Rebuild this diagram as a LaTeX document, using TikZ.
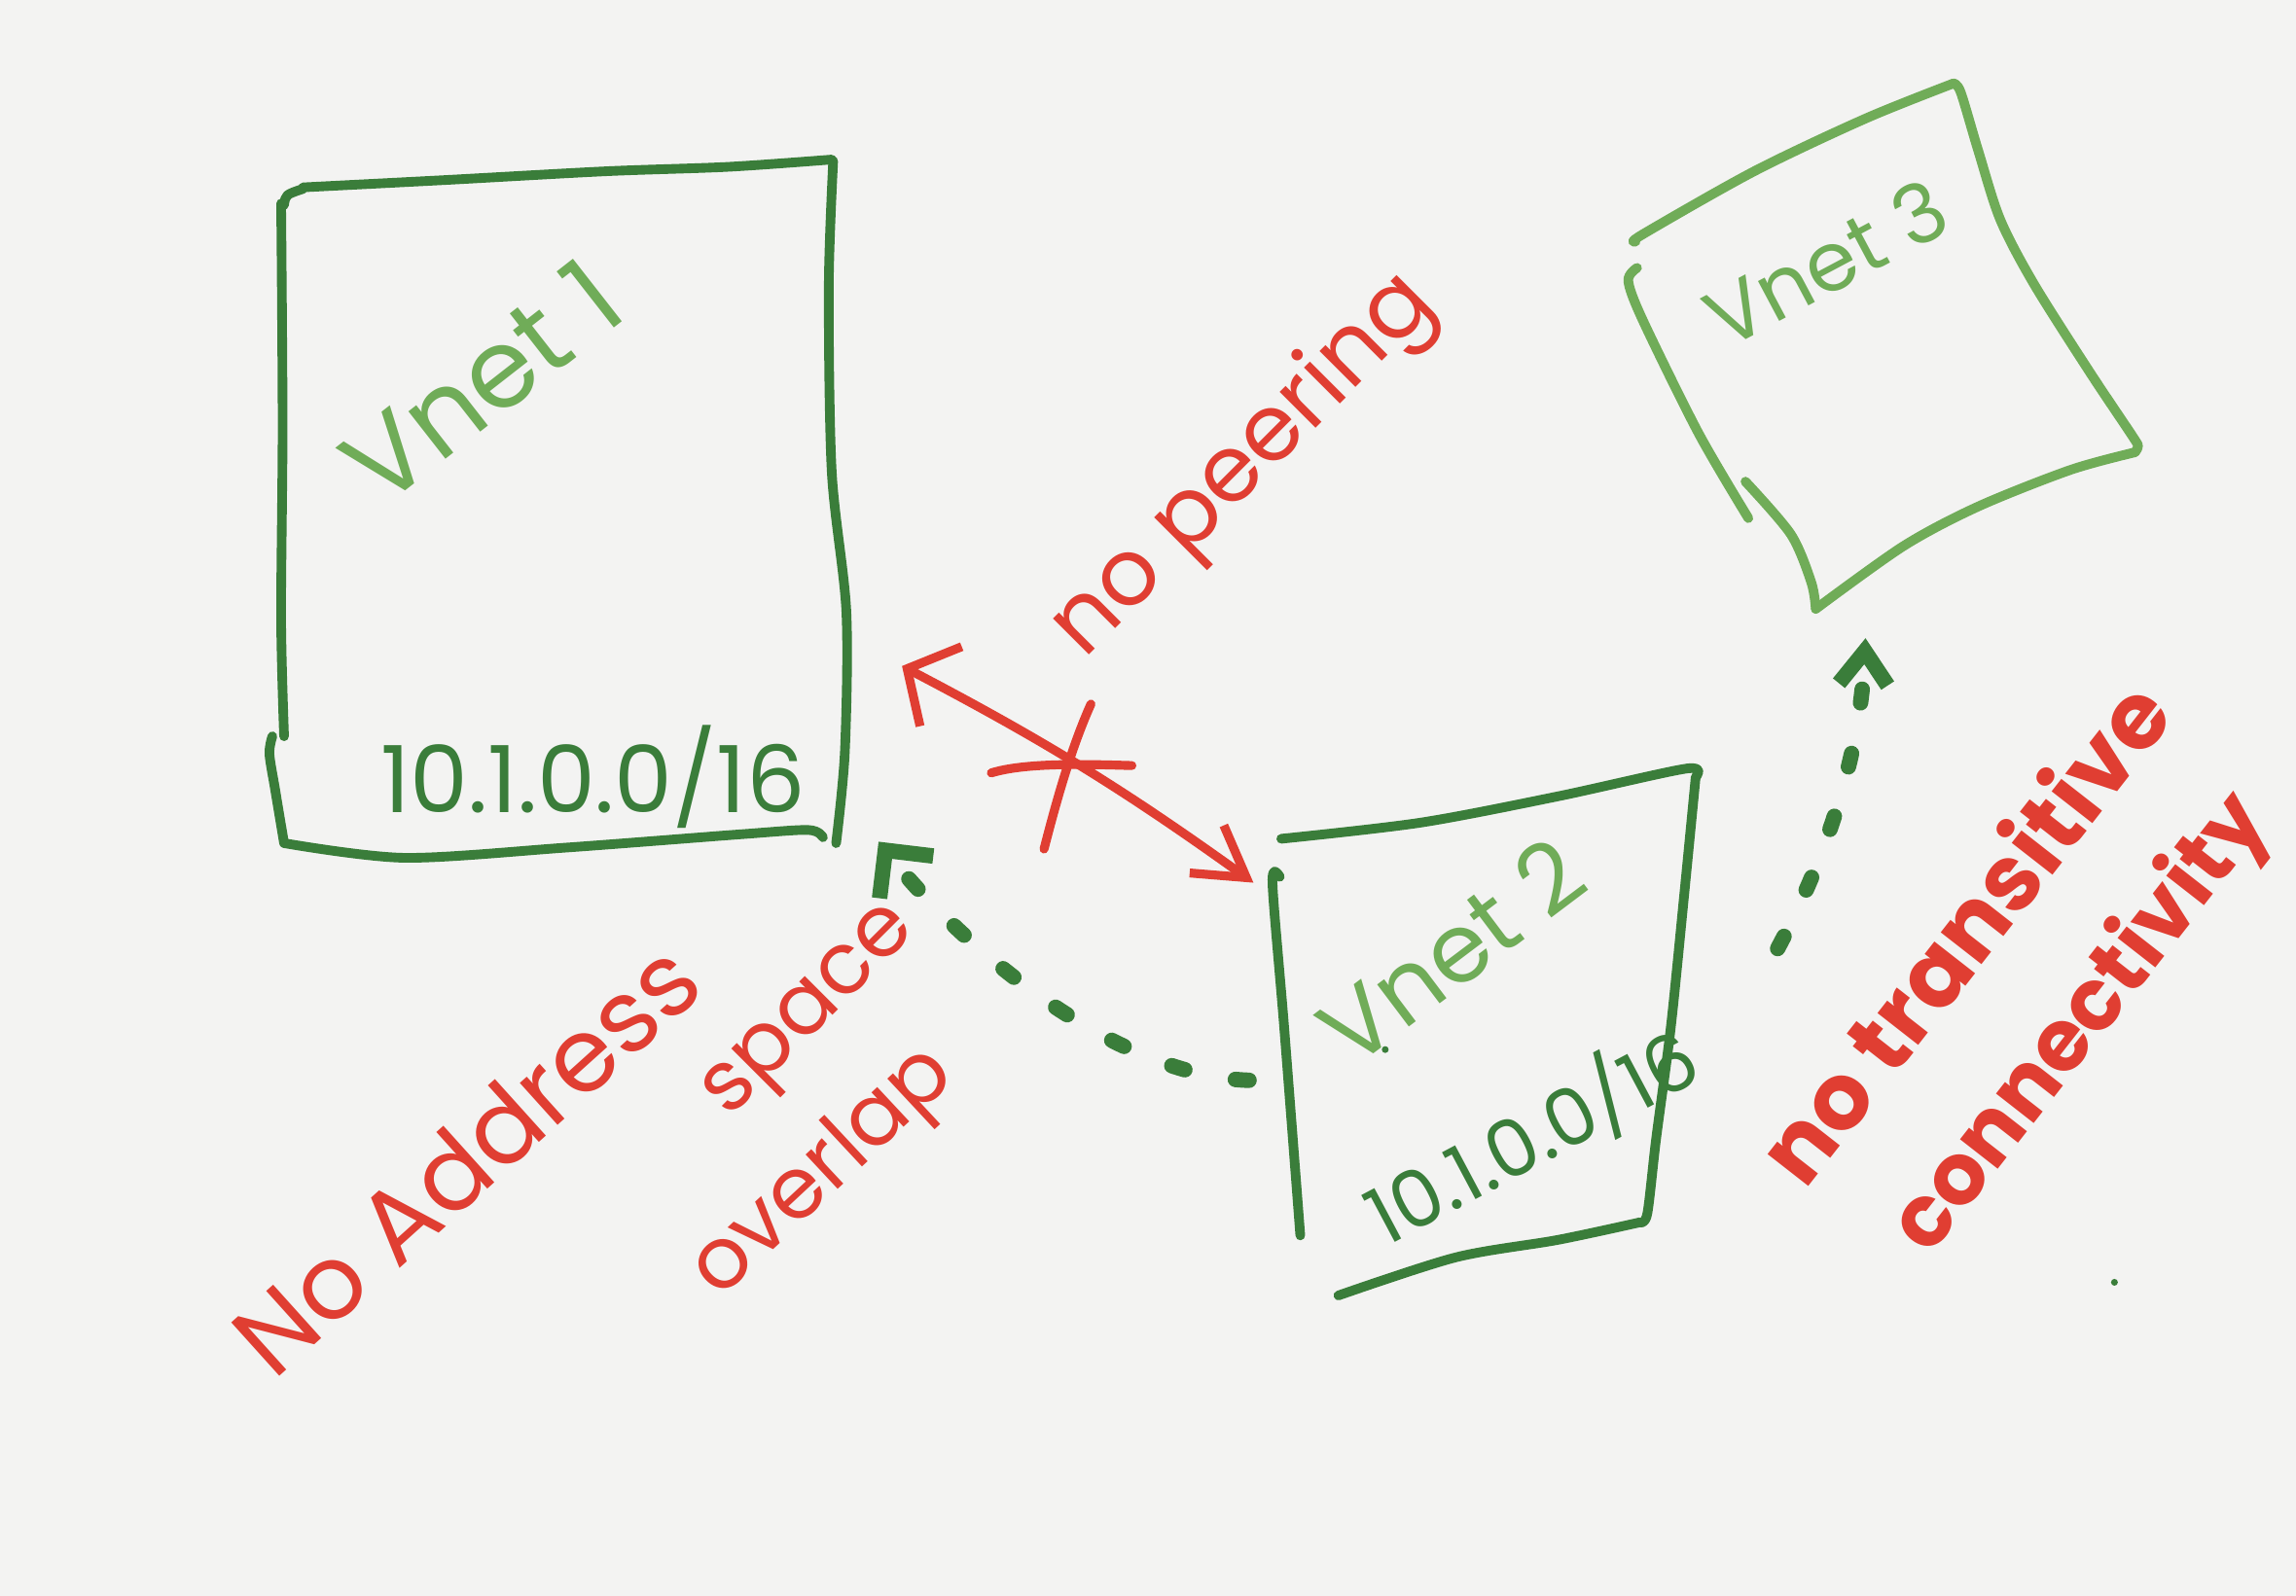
\documentclass[tikz,border=0pt]{standalone}
\usepackage{fontspec}
\setmainfont{Poppins}
\usetikzlibrary{arrows.meta}
\definecolor{bgc}{RGB}{243,243,242}
\definecolor{dkg}{RGB}{58,125,58}
\definecolor{ltg}{RGB}{112,172,88}
\definecolor{redc}{RGB}{224,62,50}
\newcommand\fsz[1]{\fontsize{#1}{#1}\selectfont}
\begin{document}
\begin{tikzpicture}[x=0.015cm,y=-0.015cm, line cap=round, line join=round,
  boxline/.style={line width=2.8pt},
  lbl/.style={inner sep=0pt},
  redline/.style={redc, line width=2.6pt},
  dots/.style={dkg, line width=4.5pt, dash pattern=on 4pt off 15pt},
  ]
\fill[bgc] (0,0) rectangle (1568,1090);
\useasboundingbox (0,0) rectangle (1568,1090);

% ---------- Vnet 1 box ----------
\begin{scope}[dkg, boxline]
\draw (194,140) .. controls (195,133) .. (207,129);
\draw plot[smooth] coordinates {(207,128) (304,123) (414,117) (497,114) (568,109)};
\draw plot[smooth] coordinates {(569,110) (566,195) (568,322) (578,418) (577,513) (571,576)};
\draw plot[smooth] coordinates {(562,572) (552,567) (505,570) (387,579) (276,586) (194,576)};
\draw plot[smooth] coordinates {(192,139) (193,291) (192,423) (194,503)};
\draw plot[smooth] coordinates {(186,503) (184,515) (188,540) (194,576)};
\end{scope}

% ---------- Vnet 2 box ----------
\begin{scope}[dkg, boxline]
\draw plot[smooth] coordinates {(875,573) (970,562) (1064,544) (1152,525) (1158,531)};
\draw plot[smooth] coordinates {(1158,531) (1150,613) (1141,702) (1131,778) (1125,829) (1120,835)};
\draw plot[smooth] coordinates {(1120,835) (1064,847) (994,859) (914,885)};
\draw plot[smooth] coordinates {(874,599) (869,603) (877,702) (888,844)};
\end{scope}

% ---------- Vnet 3 box ----------
\begin{scope}[ltg, boxline]
\draw plot[smooth] coordinates {(1117,165) (1122,160) (1198,117) (1274,81) (1334,57)};
\draw plot[smooth] coordinates {(1334,57) (1339,63) (1351,103) (1366,150) (1389,194) (1427,254) (1457,299) (1460,305) (1458,309)};
\draw plot[smooth] coordinates {(1458,309) (1414,321) (1351,346) (1300,373) (1240,416)};
\draw plot[smooth] coordinates {(1240,416) (1237,398) (1223,365) (1192,329)};
\draw plot[smooth] coordinates {(1118,183) (1112,192) (1122,219) (1160,296) (1194,354)};
\end{scope}

% ---------- labels ----------
\node[lbl, text=ltg, rotate=38, font=\fsz{32}] (n1) at (329,261) {Vnet 1};
\node[lbl, text=dkg, font=\fsz{27}] (ip1) at (405,531) {10.1.0.0/16};
\node[lbl, text=ltg, rotate=37, font=\fsz{28}] (n2) at (991,650) {Vnet 2};
\node[lbl, text=dkg, rotate=28, font=\fsz{23}] (ip2) at (1046,776) {10.1.0.0/16};
\node[lbl, text=ltg, rotate=28, font=\fsz{24}] (n3) at (1247,180) {Vnet 3};
\node[lbl, text=redc, rotate=45, font=\fsz{27}] (np) at (850,319) {no peering};
\node[lbl, text=redc, rotate=42, font=\fsz{30}] (na) at (318,791) {No Address};
\node[lbl, text=redc, rotate=45, font=\fsz{25}] (sp) at (556,694) {space};
\node[lbl, text=redc, rotate=43, font=\fsz{25}] (ov) at (563,802) {overlap};
\node[lbl, text=redc, rotate=52, font=\bfseries\fsz{27}] (nt) at (1340,636) {no transitive};
\node[lbl, text=redc, rotate=52, font=\bfseries\fsz{25}] (cn) at (1422,700) {connectivity};

% ---------- connector ends ----------
\coordinate (rA) at (616,455);
\coordinate (rB) at (856,603);
\coordinate (gA) at (853,738);
\coordinate (gB) at (600,575);
\coordinate (gC) at (1214,648);
\coordinate (gD) at (1274,436);

% no peering arrow with cross
\draw[redline,
  {Straight Barb[length=0.39cm,width=0.92cm]}-{Straight Barb[length=0.5cm,width=0.6cm]}]
  (rA) to[bend left=4] (rB);
\draw[redline] (677,528) .. controls (700,521) and (740,522) .. (773,523);
\draw[redline] (713,580) .. controls (722,545) and (732,510) .. (745,481);

% dotted green arrows
\draw[dots, -{Straight Barb[length=0.35cm,width=0.7cm]}]
  (gA) .. controls (760,735) and (655,645) .. (gB);
\draw[dots, -{Straight Barb[length=0.34cm,width=0.5cm]}]
  (gC) .. controls (1245,590) and (1270,520) .. (gD);

% stray dots
\fill[dkg] (946,717) circle (1pt);
\fill[dkg] (1444,876) circle (1pt);
\end{tikzpicture}
\end{document}
